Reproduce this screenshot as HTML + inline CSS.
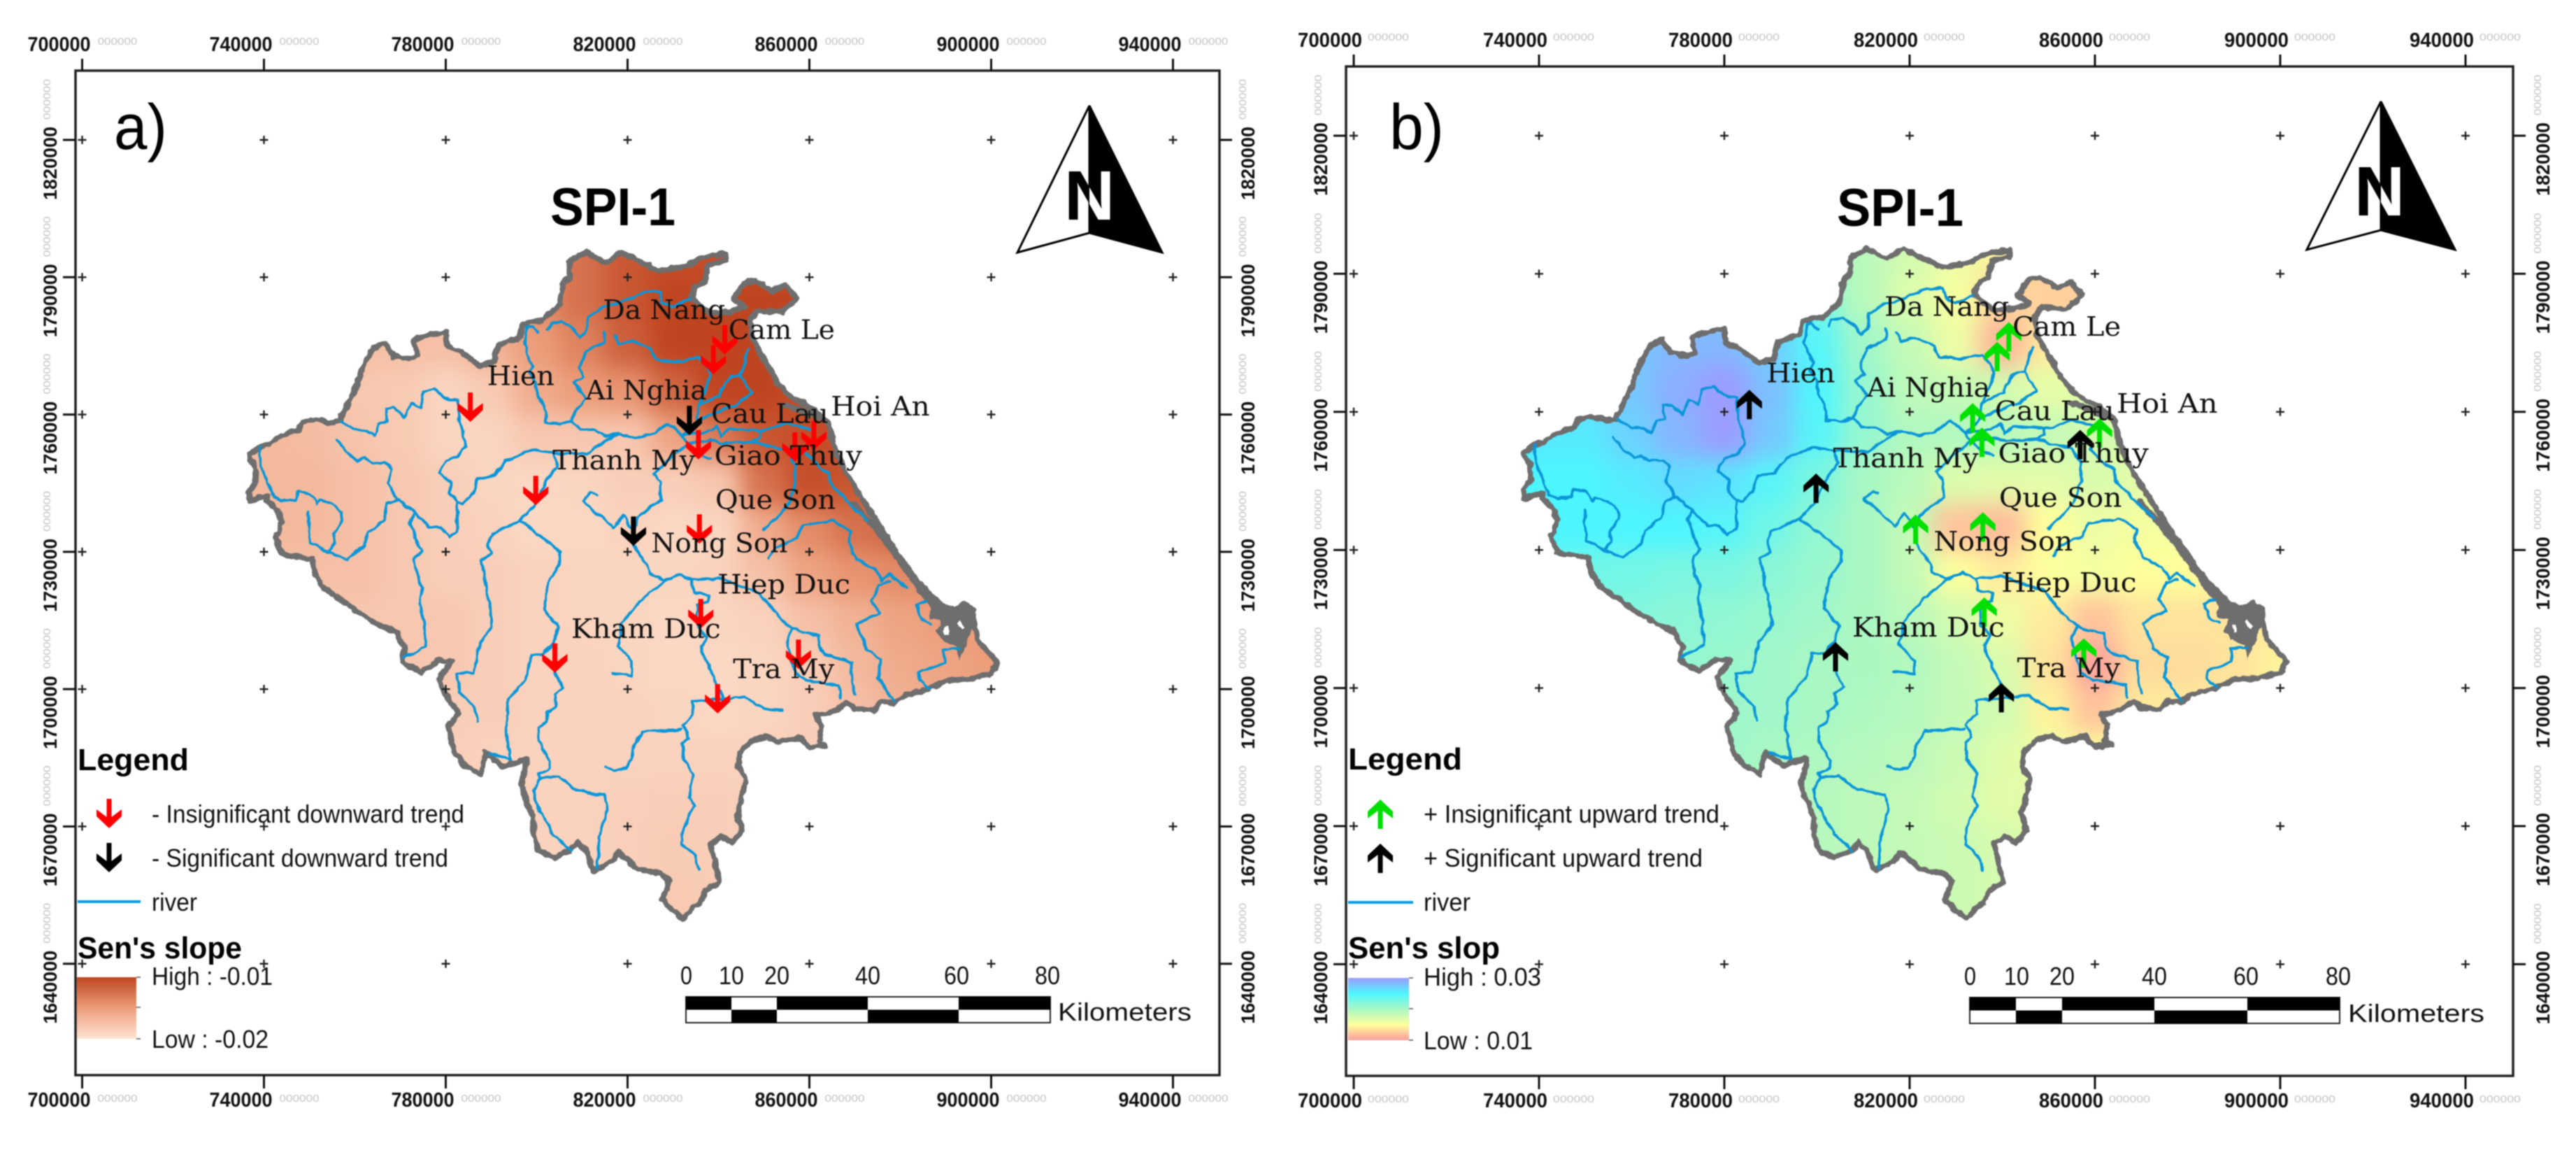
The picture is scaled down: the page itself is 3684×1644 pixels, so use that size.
<!DOCTYPE html>
<html lang="en">
<head>
<meta charset="utf-8">
<title>SPI-1 Sen's slope maps</title>
<style>
html,body{margin:0;padding:0;background:#fff}
svg{display:block;filter:blur(0.7px)}
text{font-family:"Liberation Sans",sans-serif;fill:#111}
.lg{font-size:36px}
.hd{font-size:44px;font-weight:bold;fill:#000}
.ttl{font-size:76px;font-weight:bold;fill:#000}
.let{font-size:92px;fill:#000}
.sc{font-size:36px}
</style>
</head>
<body>
<svg id="figure" xmlns="http://www.w3.org/2000/svg" width="3684" height="1644" viewBox="0 0 3684 1644">
  <defs>
    <filter id="heat-blur" filterUnits="userSpaceOnUse" x="0" y="0" width="3684" height="1644" color-interpolation-filters="sRGB">
      <feGaussianBlur stdDeviation="17"/>
    </filter>
    <filter id="rough-outline" filterUnits="userSpaceOnUse" x="0" y="0" width="3684" height="1644" color-interpolation-filters="sRGB">
      <feTurbulence type="fractalNoise" baseFrequency="0.09" numOctaves="2" seed="3"/>
      <feDisplacementMap in="SourceGraphic" scale="7" xChannelSelector="R" yChannelSelector="G"/>
    </filter>
    <filter id="rough-river" filterUnits="userSpaceOnUse" x="0" y="0" width="3684" height="1644" color-interpolation-filters="sRGB">
      <feTurbulence type="fractalNoise" baseFrequency="0.07" numOctaves="2" seed="8"/>
      <feDisplacementMap in="SourceGraphic" scale="6" xChannelSelector="R" yChannelSelector="G"/>
    </filter>
    <linearGradient id="ramp-a" x1="0" y1="0" x2="0" y2="1">
      <stop offset="0" stop-color="#bf4520"/><stop offset="0.5" stop-color="#ec9d7a"/><stop offset="1" stop-color="#fee3d2"/>
    </linearGradient>
    <linearGradient id="ramp-b" x1="0" y1="0" x2="0" y2="1">
      <stop offset="0" stop-color="#9c9cff"/><stop offset="0.25" stop-color="#4df5ff"/><stop offset="0.5" stop-color="#a8f7c4"/><stop offset="0.75" stop-color="#ffff9c"/><stop offset="1" stop-color="#ff9c9c"/>
    </linearGradient>
    <clipPath id="na-left"><rect x="1450" y="140" width="108" height="230"/></clipPath>
    <clipPath id="na-right"><rect x="1558" y="140" width="110" height="230"/></clipPath>
    <clipPath id="nb-left"><rect x="3290" y="135" width="115" height="230"/></clipPath>
    <clipPath id="nb-right"><rect x="3405" y="135" width="115" height="230"/></clipPath>
  </defs>

  <g id="panel-a"></g>
  <g id="panel-b"></g>

  <!-- Panel a static furniture -->
  <text class="let" x="163" y="213" textLength="76" lengthAdjust="spacingAndGlyphs">a)</text>
  <text class="ttl" x="787" y="322" textLength="179" lengthAdjust="spacingAndGlyphs">SPI-1</text>
  <g>
    <polygon points="1558,151 1455,361 1558,333" fill="#fff" stroke="#000" stroke-width="3"/>
    <polygon points="1558,151 1662,361 1558,333" fill="#000" stroke="#000" stroke-width="3"/>
    <text x="1522" y="314" style="font-size:100px;font-weight:bold;fill:#000" clip-path="url(#na-left)">N</text>
    <text x="1522" y="314" style="font-size:100px;font-weight:bold;fill:#fff" clip-path="url(#na-right)">N</text>
  </g>
  <g>
    <text class="hd" x="111" y="1101" textLength="159" lengthAdjust="spacingAndGlyphs">Legend</text>
    <polygon transform="translate(156,1163)" points="-3.500,-21 3.500,-21 3.500,5 18,-6 18,4 0,21 -18,4 -18,-6 -3.500,5" fill="#ff0000"/>
    <text class="lg" x="217" y="1176" textLength="447" lengthAdjust="spacingAndGlyphs">- Insignificant downward trend</text>
    <polygon transform="translate(156,1226)" points="-3.500,-21 3.500,-21 3.500,5 18,-6 18,4 0,21 -18,4 -18,-6 -3.500,5" fill="#000"/>
    <text class="lg" x="217" y="1239" textLength="424" lengthAdjust="spacingAndGlyphs">- Significant downward trend</text>
    <line x1="111" y1="1289" x2="201" y2="1289" stroke="#0a9ce0" stroke-width="4"/>
    <text class="lg" x="217" y="1302" textLength="65" lengthAdjust="spacingAndGlyphs">river</text>
    <text class="hd" x="111" y="1370" textLength="235" lengthAdjust="spacingAndGlyphs">Sen's slope</text>
    <rect x="110" y="1397" width="85" height="88" fill="url(#ramp-a)"/>
    <path d="M195 1397h6M195 1440h6M195 1485h6" stroke="#555" stroke-width="1.5"/>
    <text class="lg" x="217" y="1408" textLength="173" lengthAdjust="spacingAndGlyphs">High : -0.01</text>
    <text class="lg" x="217" y="1498" textLength="167" lengthAdjust="spacingAndGlyphs">Low : -0.02</text>
  </g>
  <g>
    <rect x="981" y="1425" width="521" height="37" fill="#fff" stroke="#222" stroke-width="2"/>
    <path fill="#000" d="M981 1425h65v18.500h-65zM1111 1425h130v18.500h-130zM1371 1425h131v18.500h-131zM1046 1443.500h65v18.500h-65zM1241 1443.500h130v18.500h-130z"/>
    <text class="sc" x="973" y="1407" textLength="17" lengthAdjust="spacingAndGlyphs">0</text><text class="sc" x="1028" y="1407" textLength="36" lengthAdjust="spacingAndGlyphs">10</text><text class="sc" x="1093" y="1407" textLength="36" lengthAdjust="spacingAndGlyphs">20</text><text class="sc" x="1223" y="1407" textLength="36" lengthAdjust="spacingAndGlyphs">40</text><text class="sc" x="1350" y="1407" textLength="36" lengthAdjust="spacingAndGlyphs">60</text><text class="sc" x="1480" y="1407" textLength="36" lengthAdjust="spacingAndGlyphs">80</text>
    <text class="lg" x="1513" y="1459" textLength="191" lengthAdjust="spacingAndGlyphs">Kilometers</text>
  </g>

  <!-- Panel b static furniture -->
  <text class="let" x="1987" y="213" textLength="78" lengthAdjust="spacingAndGlyphs">b)</text>
  <text class="ttl" x="2627" y="323" textLength="181" lengthAdjust="spacingAndGlyphs">SPI-1</text>
  <g>
    <polygon points="3405,145 3299,357 3405,329" fill="#fff" stroke="#000" stroke-width="3"/>
    <polygon points="3405,145 3511,357 3405,329" fill="#000" stroke="#000" stroke-width="3"/>
    <text x="3367" y="308" style="font-size:100px;font-weight:bold;fill:#000" clip-path="url(#nb-left)">N</text>
    <text x="3367" y="308" style="font-size:100px;font-weight:bold;fill:#fff" clip-path="url(#nb-right)">N</text>
  </g>
  <g>
    <text class="hd" x="1928" y="1100" textLength="163" lengthAdjust="spacingAndGlyphs">Legend</text>
    <polygon transform="translate(1974,1164) scale(1,-1)" points="-3.500,-21 3.500,-21 3.500,5 18,-6 18,4 0,21 -18,4 -18,-6 -3.500,5" fill="#00e000"/>
    <text class="lg" x="2036" y="1176" textLength="423" lengthAdjust="spacingAndGlyphs">+ Insignificant upward trend</text>
    <polygon transform="translate(1974,1227) scale(1,-1)" points="-3.500,-21 3.500,-21 3.500,5 18,-6 18,4 0,21 -18,4 -18,-6 -3.500,5" fill="#000"/>
    <text class="lg" x="2036" y="1239" textLength="399" lengthAdjust="spacingAndGlyphs">+ Significant upward trend</text>
    <line x1="1928" y1="1290" x2="2021" y2="1290" stroke="#0a9ce0" stroke-width="4"/>
    <text class="lg" x="2036" y="1302" textLength="67" lengthAdjust="spacingAndGlyphs">river</text>
    <text class="hd" x="1928" y="1370" textLength="217" lengthAdjust="spacingAndGlyphs">Sen's slop</text>
    <rect x="1928" y="1398" width="87" height="89" fill="url(#ramp-b)"/>
    <path d="M2015 1398h6M2015 1442h6M2015 1487h6" stroke="#555" stroke-width="1.5"/>
    <text class="lg" x="2036" y="1409" textLength="168" lengthAdjust="spacingAndGlyphs">High : 0.03</text>
    <text class="lg" x="2036" y="1500" textLength="156" lengthAdjust="spacingAndGlyphs">Low : 0.01</text>
  </g>
  <g>
    <rect x="2817" y="1426" width="529" height="37" fill="#fff" stroke="#222" stroke-width="2"/>
    <path fill="#000" d="M2817 1426h66v18.500h-66zM2949 1426h132v18.500h-132zM3214 1426h132v18.500h-132zM2883 1444.500h66v18.500h-66zM3081 1444.500h133v18.500h-133z"/>
    <text class="sc" x="2809" y="1408" textLength="17" lengthAdjust="spacingAndGlyphs">0</text><text class="sc" x="2866" y="1408" textLength="36" lengthAdjust="spacingAndGlyphs">10</text><text class="sc" x="2931" y="1408" textLength="36" lengthAdjust="spacingAndGlyphs">20</text><text class="sc" x="3063" y="1408" textLength="36" lengthAdjust="spacingAndGlyphs">40</text><text class="sc" x="3194" y="1408" textLength="36" lengthAdjust="spacingAndGlyphs">60</text><text class="sc" x="3326" y="1408" textLength="36" lengthAdjust="spacingAndGlyphs">80</text>
    <text class="lg" x="3358" y="1461" textLength="195" lengthAdjust="spacingAndGlyphs">Kilometers</text>
  </g>
</svg>

<script>
// ---- Axis ticks (projected metres) ----
const xTickValues = [700000, 740000, 780000, 820000, 860000, 900000, 940000];
const yTickValues = [1820000, 1790000, 1760000, 1730000, 1700000, 1670000, 1640000];

// ---- Gauge stations (easting / northing, km) ----
const stationE = [785.4, 799.8, 841.4, 838.9, 833.6, 835.6, 856.8, 861.0, 821.3, 835.8, 836.1, 804.0, 839.8, 857.6];
const stationN = [1761.6, 1743.4, 1776.3, 1772.0, 1758.7, 1753.4, 1752.9, 1755.4, 1734.5, 1735.0, 1716.5, 1706.8, 1697.9, 1707.6];
const trendA = ['ins','ins','ins','ins','sig','ins','ins','ins','sig','ins','ins','ins','ins','ins'];
const trendB = ['sig','sig','ins','ins','ins','ins','sig','ins','ins','ins','ins','sig','sig','ins'];

// ---- Place names (km anchor, printed width) ----
const placeNames = ['Hien','Ai Nghia','Da Nang','Cam Le','Cau Lau','Hoi An','Giao Thuy','Thanh My','Que Son','Nong Son','Hiep Duc','Kham Duc','Tra My'];
const placeE = [789.1, 810.8, 814.6, 842.2, 838.4, 864.7, 839.1, 803.5, 839.3, 825.2, 839.8, 807.6, 843.2];
const placeN = [1766.4, 1763.3, 1780.9, 1776.5, 1758.2, 1759.8, 1749.0, 1748.0, 1739.4, 1729.9, 1720.9, 1711.2, 1702.4];
const placeKm = [14.8, 26.6, 26.9, 23.4, 25.8, 21.8, 32.5, 31.4, 26.5, 30.0, 29.2, 32.9, 22.3];

// ---- Sen's slope grid (units of 0.001), cell centres ----
const gridE = [740,750,760,770,780,790,800,810,820,830,840,850,860,870,880,890,900];
const gridN = [1795,1785,1775,1765,1755,1745,1735,1725,1715,1705,1695,1685,1675,1665,1655];
const slopeGridA = [
[-17.5,-17.5,-17,-17,-17,-15,-14,-12.5,-11,-10.5,-10.5,-10.5,-10.5,-11,-11,-11,-11],
[-17.5,-17.5,-17,-17,-17,-15.5,-14,-12.5,-11,-10,-10,-10,-10,-10.5,-11,-11,-11],
[-17.5,-17.5,-17.5,-17.5,-17.5,-16.5,-15,-13.5,-11.5,-10,-10,-10,-10,-10.5,-11,-11,-11],
[-17.5,-17.5,-18,-18.2,-19,-18.2,-16,-15,-14.5,-12,-10,-10,-10.5,-10.5,-11,-11,-11],
[-17,-17.2,-17.8,-18.2,-19,-19,-18,-18,-18,-15.5,-13,-11,-10.5,-10.5,-11,-11.5,-11.5],
[-17,-17,-17.5,-18,-18.5,-19,-19.2,-19,-18.5,-18.5,-18,-12.5,-10.5,-11,-11.5,-12,-12],
[-17,-17,-17.5,-18,-18.5,-18.8,-19.2,-19.2,-18.8,-19.2,-19,-16,-14,-12.5,-12,-12.5,-13],
[-17.5,-17.5,-17.5,-18,-18.5,-18.5,-18.8,-19,-19,-19,-18.8,-17.5,-15.5,-14.5,-14,-14,-14.5],
[-18,-18,-18,-18,-18,-18.5,-18.8,-19,-19,-19.2,-19,-18.8,-17.5,-16.5,-15.5,-15,-15],
[-18,-18,-18,-18,-18,-18.5,-18.8,-18.8,-19,-19.2,-19.2,-19,-18.5,-17,-16,-15.5,-15],
[-18.5,-18.5,-18.5,-18.5,-18.5,-18.5,-18.8,-18.8,-18.8,-19,-19.2,-19,-18.5,-17.5,-16.5,-16,-16],
[-18.5,-18.5,-18.5,-18.5,-18.5,-18.8,-18.8,-18.8,-18.8,-18.8,-18.8,-18.8,-18.5,-18,-17.5,-17,-17],
[-18.5,-18.5,-18.5,-18.5,-18.5,-18.8,-18.8,-18.8,-18.6,-18.5,-18.5,-18.8,-18.8,-18.5,-18,-18,-18],
[-18.5,-18.5,-18.5,-18.5,-18.5,-18.8,-18.8,-18.8,-18.6,-18.3,-18.5,-18.8,-18.8,-18.5,-18,-18,-18],
[-18.5,-18.5,-18.5,-18.5,-18.5,-18.8,-18.8,-18.8,-18.6,-18.2,-18.3,-18.8,-18.8,-18.5,-18,-18,-18]
];
const slopeGridB = [
[27,27,27,27,27,25,21,19,17.6,16,14.4,13,12.6,14,14,14,14],
[27,27,27,27.6,27,25.6,22.4,19,17,15.6,13,12.6,12.6,14,14,14,14],
[27,27,27.6,28.4,28.4,27,24.4,20.4,18.4,16,11.2,14,16,16,16,16,16],
[26.4,27,27.6,29,30,28,24.8,21,18.8,18.4,17.6,16.4,17,17,16,16,16],
[25.6,25.6,27,28.6,30,27.6,24.4,21,19.4,19.4,19,18.4,17.6,17.2,16.6,16,16],
[25,25,25.6,26.4,26,24.4,22.4,20,19,17,16.6,16.6,17.2,16.6,16,16,16],
[25,25,25,25,24.4,23,21.2,20,18.4,12,11.6,15,16,15.6,15.6,15.6,15.6],
[23,23,22.8,22.4,22.4,21.6,20.8,20,18.4,15.2,14,15.2,15.6,15,15,14.4,14.4],
[22,22,22,21.6,21.2,20.8,20.4,19.8,19,17.6,16,14,12,13.6,13.6,13.6,14],
[21.6,21.6,21.6,21.2,20.8,20.4,20,19.8,19.4,18.4,17.2,13.6,10.4,13.2,13.2,13.6,14.4],
[21.2,21.2,21.2,20.8,20.6,20.4,20,19.6,19.2,18.4,17.6,14.4,12,14,14,14,14],
[20.8,20.8,20.8,20.8,20.4,20,19.6,19.2,18.8,18,16.8,16,15,15,15,15,15],
[20.4,20.4,20.4,20.4,20,19.6,19.2,18.8,18.4,17.6,16.8,16.4,16,16,16,16,16],
[20,20,20,20,20,19.6,19.2,18.8,18.4,18,17.4,16.8,16.4,16,16,16,16],
[20,20,20,20,20,19.6,19.2,18.8,18.4,18,17.4,16.8,16.4,16,16,16,16]
];

// ---- Geography (easting, northing pairs, km) ----
const basinOutline = [736.6,1751.1,739.1,1752.9,741.3,1753.6,742.9,1754.9,745.4,1755.9,747.6,1756.7,748.4,1758.2,751.4,1759,754.5,1758.2,756.6,1758.5,757.7,1760.8,759.7,1764.6,761.3,1769.2,762.4,1771.7,764.1,1774.5,766.5,1775.6,768.5,1772.8,772.1,1772.1,773.7,1773,772.9,1776.1,775.1,1777.1,780,1778.1,780.3,1775.1,783.6,1773.5,786.1,1771.7,787.4,1770.6,790.7,1771.5,791.5,1775.1,796.2,1776.8,796.8,1779.6,801.7,1780.9,805,1784,805.8,1788.6,807.2,1790.1,807.2,1793.4,810.8,1795.5,814.9,1793.2,818.8,1795.5,822.1,1793.7,827.1,1791.4,833.1,1792.4,836.4,1794.4,841.6,1795.2,841.6,1793.7,837.8,1792.7,837,1789.3,834.5,1787.6,834,1785.3,838.1,1782.2,842.5,1782.4,845.8,1783.5,843.3,1785.3,845.8,1788.8,848,1789.3,851.8,1787,854.8,1788.3,857.1,1785.3,854,1782.4,848.5,1782.7,847.1,1780.9,847.4,1776.8,849.6,1772.8,852.9,1767.1,856.2,1763.6,861.2,1761,864.2,1758,865.5,1752.9,867.7,1747.8,871.6,1741.6,876.5,1733.9,880.4,1728.3,882,1725.8,885.1,1722.2,888.7,1718.6,891.8,1717.1,894.1,1718.6,896.2,1717.1,896.2,1714.1,897,1710.7,901.3,1705.9,900,1703.4,895.2,1702.2,890.2,1701.9,885.8,1699.9,880.9,1698.6,878.4,1696.8,875.9,1697.3,874.3,1695.3,869.9,1695.8,868.2,1697.1,865.5,1695.1,861.4,1694.3,862.5,1692,862.2,1688.2,863.6,1687.7,860,1687.4,857.8,1689.4,852.9,1688.4,850.7,1689.7,847.4,1688.7,844.7,1686.1,844.3,1683.1,846,1680.5,845.2,1676.4,844.1,1672.9,845.2,1669,843,1666.5,840.5,1667.8,838.3,1666,839.1,1662.7,840.2,1657.8,837.2,1656,835.8,1653.2,834.5,1652.4,832.3,1649.9,830.1,1651.4,827.6,1654,829.2,1658.1,827.3,1659.8,822.4,1660.6,818,1664.4,816.3,1662.1,812.5,1660.4,810.8,1664.7,808.9,1666.5,807.5,1664.7,803.7,1663.2,800.4,1664.7,799.3,1668.3,799.3,1671.8,796.5,1679,797.9,1684.8,792.7,1683.1,788.8,1686.1,787.7,1681.3,784.5,1683.1,782,1685.9,780.6,1691.7,782.8,1694.8,779.8,1698.9,778.4,1702.2,781.4,1706,778.4,1706.3,774.6,1703.7,770.4,1706,771,1709.1,769.1,1712.4,765.5,1713.9,761.9,1716,753.1,1722.2,751.2,1725.3,750.6,1728.4,744,1729.4,742.6,1733,744,1736.5,742.9,1739.1,740.7,1741.1,740.7,1742.4,736.9,1741.1,736.6,1743.2,738.2,1745.2,738,1748.5];
const deltaOutline = [882,1725.8,885.1,1722.2,888.7,1718.6,891.8,1717.1,894.1,1718.6,896.2,1717.1,896.2,1714.1,895.4,1713,894.6,1710.5,893.1,1706.9,892.6,1709.5,889.7,1710.7,888.2,1712.5,889.2,1715.1,886.7,1715.6,886.7,1718.1,884.1,1721.2,882,1724.2];
const deltaHoles = [
  [890,1713.8,890.3,1711.8],
  [892.6,1714.6,893.9,1713.3]
];
const lagoonLines = [
  [854.6,1762,858.5,1760.8,862.8,1759],
  [869.6,1740.6,873.8,1736,878,1730.6,881.8,1725.2]
];
const riverPaths = [
  [756.9,1758.5,759.9,1756.7,762.7,1756.4,764.1,1755.4,765.4,1758,767.1,1758.5,766.8,1761.3,768.7,1761.5,770.9,1759.5,772.3,1762.6,774.5,1761.5,775.1,1764.8,777.3,1765.6,780.8,1763.1,782.7,1763.1,783,1758.5,783.8,1756.4,784.4,1752.9,782.5,1750.8,780,1749.8,778.6,1747.2,781.1,1745.2,780.8,1742.9,782.5,1740.9,782.6,1734.5,780.8,1733.2,778.9,1735.3,776.4,1735.3,773.1,1738.6,769.8,1741.4,767.1,1740.6,766.3,1737,763,1734.2,762.1,1731.4,758.3,1728.4,754.5,1729.9,750.1,1731.9,749.8,1738.6],
  [739.1,1752.9,739.3,1748.8,741,1744.7,742.1,1741.9,744,1741.1,747,1741.4,747.6,1743.2,750.1,1742.7,751.7,1740.6,752.3,1741.4,754.7,1740.6,756.9,1738.6,757.2,1736.8,755.3,1734,755.5,1731.9,754.2,1729.9],
  [756.1,1754.4,757.7,1752.3,760.5,1749.8,762.1,1750.6,763.8,1749.3,766.5,1749.5,768.2,1748,767.4,1745.2,769.3,1741.4],
  [782.5,1740.9,783.8,1740.6,786,1742.7,787.1,1746,790.7,1746.7,793.2,1749.8,799,1752.3,803.6,1751.6,804.5,1748.8,802.5,1746.2,801.4,1743.9,799.5,1740.1,796.2,1736.8,790.2,1734,789.3,1731.9,789.9,1729.4,787.7,1728.1,788.5,1725.3,788.8,1722.2,789.9,1717.2,790.2,1713.7,787.5,1710.1,786.1,1703.5,782.3,1703.2,783.1,1699.4,786.4,1695.8,787,1693],
  [803.6,1751.6,811,1751.3,815.4,1754.4,818.2,1755.9],
  [796.2,1736.8,800.9,1733.5,805.3,1729.9,805,1727.3,802.5,1723.3,801.5,1717.5,804.8,1713.4,803.7,1710.1,801.5,1707.6,799,1707.6,797.4,1701.9,793.8,1697.9,793.2,1691.2,794.3,1684.6,789.7,1686.1],
  [803.7,1710.1,804,1703.5,805.9,1700.2,804,1698.9,804.2,1696.3,802.3,1694.8,802.3,1692.8,800.4,1691.5,800.4,1688.7,802.9,1684.1,802.9,1682.6,800.4,1681.5,800.7,1680.5,799.3,1678,799.6,1675.4,803.7,1668.3,807.5,1664.8],
  [800.7,1680.5,804.8,1681,808.6,1678,814.7,1676.7,815.5,1673.9,813.8,1667.8,813.3,1660.9],
  [773.1,1738.6,772,1736.5,773.4,1733,774.8,1730.2,773.1,1728.4,773.7,1724.8,774.8,1722.2,774.3,1718.8,775.1,1715.2,775.7,1709.3,770.7,1706.8],
  [813.2,1742.4,811.9,1742.9,810.2,1741.1,813.8,1738.1,816.8,1735,819,1738.1,821.3,1734.5],
  [832,1755.4,833.1,1753.6,829.8,1750.8,825.7,1747,827.1,1745.2,827.4,1741.4,824.9,1739.6,822.1,1737.6,821.3,1734.5,821.3,1731.4,824.3,1727.3,824.9,1725.3,827.9,1723.8,831.5,1725,834.2,1723.8,840,1724.3,849,1721.1,852.9,1716.2,856.2,1713.4,858.6,1712.4,861.9,1711.9,862.2,1709.1,863.3,1707.6,869.3,1705.8,869.1,1703.5,870.2,1698.9],
  [856.2,1713.4,855.1,1710.4,855.9,1706.5,857,1703.5,859.5,1701.9,863.3,1701.2,866.6,1700.9,866.9,1697.9],
  [834.2,1723.6,834.7,1721.3,838,1720.6,837.7,1719,835.3,1718.3,835.5,1713.7,837.5,1711.4,836.1,1709.3,836.9,1707,839.7,1700.9,841,1697.9,842.7,1697.9,845.7,1698.4,850.1,1695.6,854.2,1695.4],
  [841,1697.9,837.7,1697.6,834.2,1697.3,834.5,1694.3,832,1692,833.1,1690.5,833.4,1689.2,832,1688.2,832.3,1684.6,834.5,1681.5,833.6,1676.4,834.7,1674.6,832.3,1669.8,832,1666.2,834.7,1663.7,835.8,1660.6],
  [831.7,1691.2,823.2,1690.7,821.3,1687.1,821,1685.1,819.6,1682.6,816.9,1682.3,815.2,1683.1],
  [829.5,1724.2,827.9,1723.4,822.6,1719,818.5,1714.2,818.5,1711.6,817.7,1709.6,821,1706,821,1703,818,1703.5,816.6,1703.7],
  [802.5,1778.6,803.1,1779.9,805.5,1780.4,807.7,1779.1,809.7,1776.8,810.8,1777.9,811.3,1781.4,814.9,1783.5,817.6,1784.2,820.2,1785.3,823.8,1786.8,827.1,1786.8,827.6,1784.7,829.8,1783.6,833.7,1785.3],
  [800.3,1777.9,798.9,1779.5,797.9,1779.1,797.3,1775.3,798.4,1771.7,799.2,1770.5,798.4,1769.2,799.8,1767.1,800.3,1764.1,801.7,1761.5,802,1758.2,805,1757.9,807.7,1758.7,808.8,1761,810.8,1763.6,808.3,1766.9,810.2,1768.2,809.4,1770.2,810.8,1773.8,814.9,1775.8,814.9,1777.9],
  [807.7,1758.7,809.7,1756.7,812.7,1756.7,815.2,1755.2,818.2,1755.9,821.6,1754.9,825.4,1755.7,828.7,1758,830.7,1756.7,832,1755.4,835.3,1758.5,835.6,1762,840.3,1764.1,840.5,1765.6,842.7,1768.2,844.7,1768.7,845.8,1771.7,846.6,1774.3],
  [844.7,1768.7,847.4,1764.6,843.6,1762,838.1,1760,835.3,1758.5],
  [817.1,1777.1,818.2,1775.3,821.3,1776.1,825.2,1774.3,826.3,1772,830.4,1771.5,835.6,1772.5,837.5,1770.2,838.1,1768.7,837.8,1766.9,835.6,1762],
  [832,1755.4,837.5,1756.2,839.7,1757.4,840.5,1755.2,842.2,1756.9,849.1,1756.4,852.9,1757.4,854.6,1758.2,860.1,1756.7],
  [833.1,1753.6,838.1,1754.4,840.8,1753.6,847.4,1754.1,849.1,1754.9,849.1,1756.4],
  [833.1,1753.6,835.3,1751.8,838.1,1750.3],
  [847.4,1754.1,850.7,1753.1,855.1,1752.1,856.8,1749,857,1744.7,855.7,1741.1,854,1738.6,849.9,1734.7],
  [859,1751.8,862.3,1748.5,864.2,1747.5,864.5,1745.2,869.2,1740.1,872.7,1737],
  [851,1728.6,852.4,1730.9,857.3,1733,858.4,1735.8,865,1736.8,869.1,1734.5,868.6,1731.9,870.5,1728.4,874.3,1726.3,876,1723.8,877.6,1725.1,881.5,1722.2],
  [877.9,1723.6,875.4,1722.9,873.7,1719.3,875.4,1716.7,870.2,1714.2,871.5,1711.6,872.6,1708.6,875.7,1706.5,875.1,1702.4,878.7,1697.3],
  [893,1708.8,889.4,1708.6,889.7,1705.8,884.2,1703.7,884.2,1701.9,886.4,1700.2],
  [885.8,1719.3,883.6,1718.5,884.7,1715.2,886.6,1714.2]
];

// ---- Colour ramps (slope value in 0.001, colour) ----
const rampValuesA = [-20, -15, -10];
const rampColorsA = [[254,227,210],[236,157,122],[191,69,32]];
const rampValuesB = [10, 15, 20, 25, 30];
const rampColorsB = [[255,156,156],[255,255,156],[168,247,196],[77,245,255],[156,156,255]];

const NS = 'http://www.w3.org/2000/svg';
const ARROW_SHAPE = '-3.5,-21 3.5,-21 3.5,5 18,-6 18,4 0,21 -18,4 -18,-6 -3.5,5';

function mk(parent, tag, attrs, txt) {
  const el = document.createElementNS(NS, tag);
  for (const k in attrs) el.setAttribute(k, attrs[k]);
  if (txt !== undefined) el.textContent = txt;
  parent.appendChild(el);
  return el;
}
function rampColor(v, vals, cols) {
  let i = 0;
  while (i < vals.length - 2 && v > vals[i + 1]) i++;
  let t = (v - vals[i]) / (vals[i + 1] - vals[i]);
  t = Math.max(0, Math.min(1, t));
  const c = cols[i].map((a, j) => Math.round(a + (cols[i + 1][j] - a) * t));
  return 'rgb(' + c.join(',') + ')';
}

function drawPanel(p) {
  const g = document.getElementById(p.id);
  const xOf = km => p.x0 + (km - 700) * p.kx;
  const yOf = km => p.y0 + (1820 - km) * p.ky;
  const pts = arr => {
    const out = [];
    for (let i = 0; i < arr.length; i += 2) out.push(xOf(arr[i]).toFixed(1) + ',' + yOf(arr[i + 1]).toFixed(1));
    return out.join(' ');
  };
  const L = p.frame;

  // Sen's slope raster clipped to the basin
  const clip = mk(g, 'clipPath', { id: p.id + '-basin-clip' });
  mk(clip, 'polygon', { points: pts(basinOutline) });
  const clipG = mk(g, 'g', { 'clip-path': 'url(#' + p.id + '-basin-clip)' });
  
  
  const heat = mk(clipG, 'g', { filter: 'url(#heat-blur)' });
  const cw = 10 * p.kx, ch = 10 * p.ky;
  gridN.forEach((n, r) => {
    gridE.forEach((e, c) => {
      let x = xOf(e) - cw / 2, y = yOf(n) - ch / 2, w = cw + 1, h = ch + 1;
      if (c === 0) { x -= 60; w += 60; }
      if (c === gridE.length - 1) { w += 60; }
      if (r === 0) { y -= 60; h += 60; }
      if (r === gridN.length - 1) { h += 60; }
      const cell = mk(heat, 'rect', { x: x.toFixed(1), y: y.toFixed(1), width: w.toFixed(1), height: h.toFixed(1), fill: rampColor(p.grid[r][c], p.rampV, p.rampC) });
      
      
    });
  });

  // Basin outline, lagoons, delta
  const rough = mk(g, 'g', { filter: 'url(#rough-outline)' });
  
  
  const outline = mk(rough, 'polygon', { points: pts(basinOutline), fill: 'none', stroke: '#6e6e6e', 'stroke-width': 8, 'stroke-linejoin': 'round' });
  
  
  const delta = mk(rough, 'polygon', { points: pts(deltaOutline), fill: '#6e6e6e', stroke: '#6e6e6e', 'stroke-width': 3 });
  
  
  deltaHoles.forEach(h => {
    const hole = mk(rough, 'polyline', { points: pts(h), fill: 'none', stroke: '#fff', 'stroke-width': 6 });
    
    
  });
  lagoonLines.forEach(l => {
    const lag = mk(rough, 'polyline', { points: pts(l), fill: 'none', stroke: '#6e6e6e', 'stroke-width': 9, 'stroke-linecap': 'round' });
    
    
  });

  // Rivers
  const riverGroup = mk(g, 'g', { filter: 'url(#rough-river)' });
  
  
  riverPaths.forEach(r => {
    const riv = mk(riverGroup, 'polyline', { points: pts(r), fill: 'none', stroke: '#0a96d8', 'stroke-width': 3.8, 'stroke-linejoin': 'round', 'stroke-linecap': 'round' });
    
    
  });

  // Graticule crosses
  xTickValues.forEach(xv => {
    yTickValues.forEach(yv => {
      const cx = xOf(xv / 1000), cy = yOf(yv / 1000);
      const cross = mk(g, 'path', { d: 'M' + (cx - 6) + ' ' + cy + 'h12M' + cx + ' ' + (cy - 6) + 'v12', stroke: '#222', 'stroke-width': 2.4, fill: 'none' });
      
      
    });
  });

  // Frame
  const frame = mk(g, 'rect', { x: L.l, y: L.t, width: L.r - L.l, height: L.b - L.t, fill: 'none', stroke: '#222', 'stroke-width': 3.5 });
  
  

  // X axis ticks and labels (top and bottom)
  xTickValues.forEach(v => {
    const x = xOf(v / 1000);
    const tt = mk(g, 'line', { x1: x, x2: x, y1: L.t - 17, y2: L.t, stroke: '#111', 'stroke-width': 3 });
    
    
    const tb = mk(g, 'line', { x1: x, x2: x, y1: L.b, y2: L.b + 19, stroke: '#111', 'stroke-width': 3 });
    
    
    [[p.xBaseTop, p.xGrayTop], [p.xBaseBot, p.xGrayBot]].forEach(b => {
      const lab = mk(g, 'text', { x: x - p.xOff, y: b[0], textLength: p.xLen, lengthAdjust: 'spacingAndGlyphs', style: 'font-size:29px;font-weight:bold;fill:#111' }, String(v));
      
      
      const gr = mk(g, 'text', { x: x + p.grayOff, y: b[1], textLength: p.grayLen, lengthAdjust: 'spacingAndGlyphs', style: 'font-size:15px;fill:#c4c4c4' }, '000000');
      
      
    });
  });

  // Y axis ticks and labels (left and right)
  yTickValues.forEach(v => {
    const y = yOf(v / 1000);
    const tl = mk(g, 'line', { x1: L.l - 18, x2: L.l, y1: y, y2: y, stroke: '#111', 'stroke-width': 3 });
    
    
    const tr = mk(g, 'line', { x1: L.r, x2: L.r + 18, y1: y, y2: y, stroke: '#111', 'stroke-width': 3 });
    
    
    [[p.yBaseL, p.yGrayL], [p.yBaseR, p.yGrayR]].forEach(b => {
      const ys = y + 86;
      const lab = mk(g, 'text', { x: b[0], y: ys, transform: 'rotate(-90 ' + b[0] + ' ' + ys + ')', textLength: 105, lengthAdjust: 'spacingAndGlyphs', style: 'font-size:27px;font-weight:bold;fill:#111' }, String(v));
      
      
      const yg = y - 29;
      const gr = mk(g, 'text', { x: b[1], y: yg, transform: 'rotate(-90 ' + b[1] + ' ' + yg + ')', textLength: 58, lengthAdjust: 'spacingAndGlyphs', style: 'font-size:15px;fill:#c4c4c4' }, '000000');
      
      
    });
  });

  // Station arrows
  stationE.forEach((e, i) => {
    const flip = p.up ? ' scale(1,-1)' : '';
    const fill = p.trend[i] === 'sig' ? '#000' : p.insColor;
    const ar = mk(g, 'polygon', { points: ARROW_SHAPE, transform: 'translate(' + xOf(e).toFixed(1) + ',' + yOf(stationN[i]).toFixed(1) + ')' + flip, fill: fill });
    
    
  });

  // Place labels
  placeNames.forEach((name, i) => {
    const t = mk(g, 'text', { x: xOf(placeE[i]).toFixed(1), y: yOf(placeN[i]).toFixed(1), textLength: (placeKm[i] * p.kx).toFixed(1), lengthAdjust: 'spacingAndGlyphs', style: 'font-family:"DejaVu Serif","Liberation Serif",serif;font-size:38px;fill:#111' }, name);
    
    
  });
}

drawPanel({
  id: 'panel-a', x0: 117.5, kx: 6.5, y0: 200, ky: 6.543,
  frame: { l: 108, r: 1744, t: 101, b: 1537 },
  grid: slopeGridA, rampV: rampValuesA, rampC: rampColorsA,
  trend: trendA, up: false, insColor: '#ff0000',
  xBaseTop: 73, xGrayTop: 64, xBaseBot: 1582, xGrayBot: 1575,
  xOff: 78, xLen: 90, grayOff: 22, grayLen: 57,
  yBaseL: 81, yGrayL: 72, yBaseR: 1794, yGrayR: 1782
});
drawPanel({
  id: 'panel-b', x0: 1936, kx: 6.625, y0: 194, ky: 6.58,
  frame: { l: 1925, r: 3594, t: 95, b: 1538 },
  grid: slopeGridB, rampV: rampValuesB, rampC: rampColorsB,
  trend: trendB, up: true, insColor: '#00e000',
  xBaseTop: 67, xGrayTop: 58, xBaseBot: 1583, xGrayBot: 1576,
  xOff: 80, xLen: 92, grayOff: 20, grayLen: 59,
  yBaseL: 1898, yGrayL: 1890, yBaseR: 3646, yGrayR: 3634
});
</script>
</body>
</html>
